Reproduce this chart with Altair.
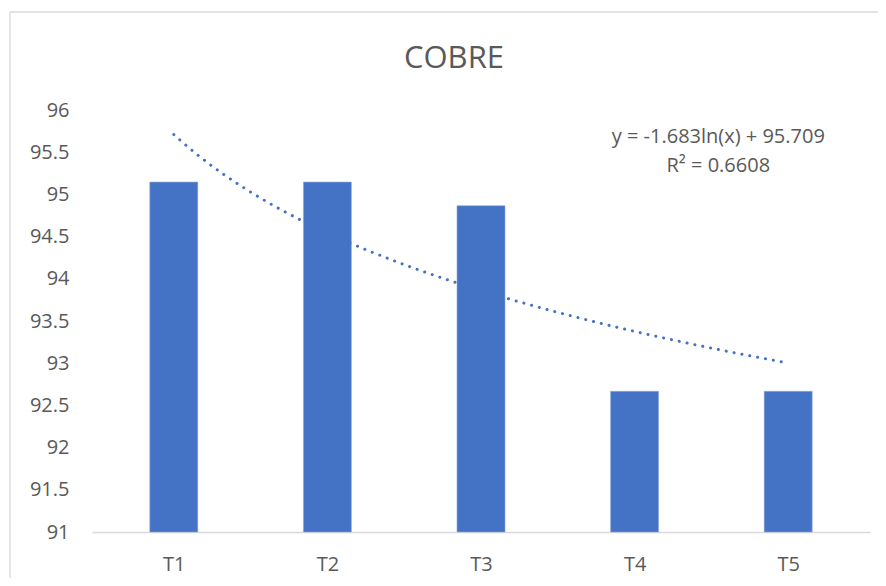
import json
import altair as alt
import pandas as pd

# ---- data ----
categories = ["T1", "T2", "T3", "T4", "T5"]
positions = [1, 2, 3, 4, 5]
values = [95.146, 95.146, 94.866, 92.667, 92.667]
y_ticks = [91, 91.5, 92, 92.5, 93, 93.5, 94, 94.5, 95, 95.5, 96]
equation_lines = ["y = -1.683ln(x) + 95.709", "R² = 0.6608"]
equation_x = [4.545, 4.545]
equation_y = [95.61, 95.265]
title_text = "COBRE"

BLUE = "#4472C4"
TEXT = "#595959"
FONT = "Open Sans"

df = pd.DataFrame({"cat": categories, "idx": positions, "val": values})
eq_df = pd.DataFrame({"t": equation_lines, "x": equation_x, "y": equation_y})
dummy = pd.DataFrame({"t": [title_text]})

label_expr = f"{json.dumps(categories)}[datum.value - 1]"

x_scale = alt.Scale(domain=[0.5, 5.5], nice=False, zero=False)
y_scale = alt.Scale(domain=[y_ticks[0], y_ticks[-1]], nice=False, zero=False)

x_axis = alt.Axis(values=positions, labelExpr=label_expr, title=None, ticks=False,
                  grid=False, domain=True, domainColor="#d9d9d9", domainWidth=1.3,
                  labelPadding=22, labelFontSize=20, labelColor=TEXT, labelFont=FONT)
y_axis = alt.Axis(values=y_ticks, format="~g", title=None, ticks=False, grid=False,
                  domain=False, labelPadding=23, labelFontSize=20, labelColor=TEXT,
                  labelFont=FONT)

base = alt.Chart(df)

trend = base.transform_regression(
    "idx", "val", method="log", extent=[1, 5]
).mark_line(color=BLUE, strokeWidth=3, strokeDash=[0.1, 7.9], strokeCap="round").encode(
    x=alt.X("idx:Q", scale=x_scale, axis=x_axis),
    y=alt.Y("val:Q", scale=y_scale, axis=y_axis),
)

bars = base.mark_bar(color=BLUE, size=48, stroke="#8faadc", strokeWidth=0.6).encode(
    x=alt.X("idx:Q", scale=x_scale, axis=x_axis),
    y=alt.Y("val:Q", scale=y_scale, axis=y_axis),
    y2=alt.datum(y_ticks[0]),
)

eq_text = alt.Chart(eq_df).mark_text(
    fontSize=20, font=FONT, color=TEXT, align="center", baseline="alphabetic"
).encode(x=alt.X("x:Q", scale=x_scale), y=alt.Y("y:Q", scale=y_scale), text="t:N")

title = alt.Chart(dummy).mark_text(
    fontSize=31, font=FONT, color=TEXT, align="center", baseline="alphabetic"
).encode(x=alt.value(362), y=alt.value(-42.3), text="t:N")

border_top = alt.Chart(dummy).mark_rule(color="#d9d9d9", strokeWidth=1.3).encode(
    x=alt.value(-82), x2=alt.value(900), y=alt.value(-98))
border_left = alt.Chart(dummy).mark_rule(color="#d9d9d9", strokeWidth=1.3).encode(
    x=alt.value(-82), y=alt.value(-98), y2=alt.value(600))

chart = alt.layer(border_top, border_left, trend, bars, eq_text, title).properties(
    width=778,
    height=422,
    padding={"left": 84, "top": 102, "right": 8, "bottom": 46},
    autosize=alt.AutoSizeParams(type="none"),
).configure(
    background="white",
    view=alt.ViewConfig(stroke="transparent", strokeWidth=0),
)

chart.save("out.html", embed_options={"renderer": "svg", "actions": False})
